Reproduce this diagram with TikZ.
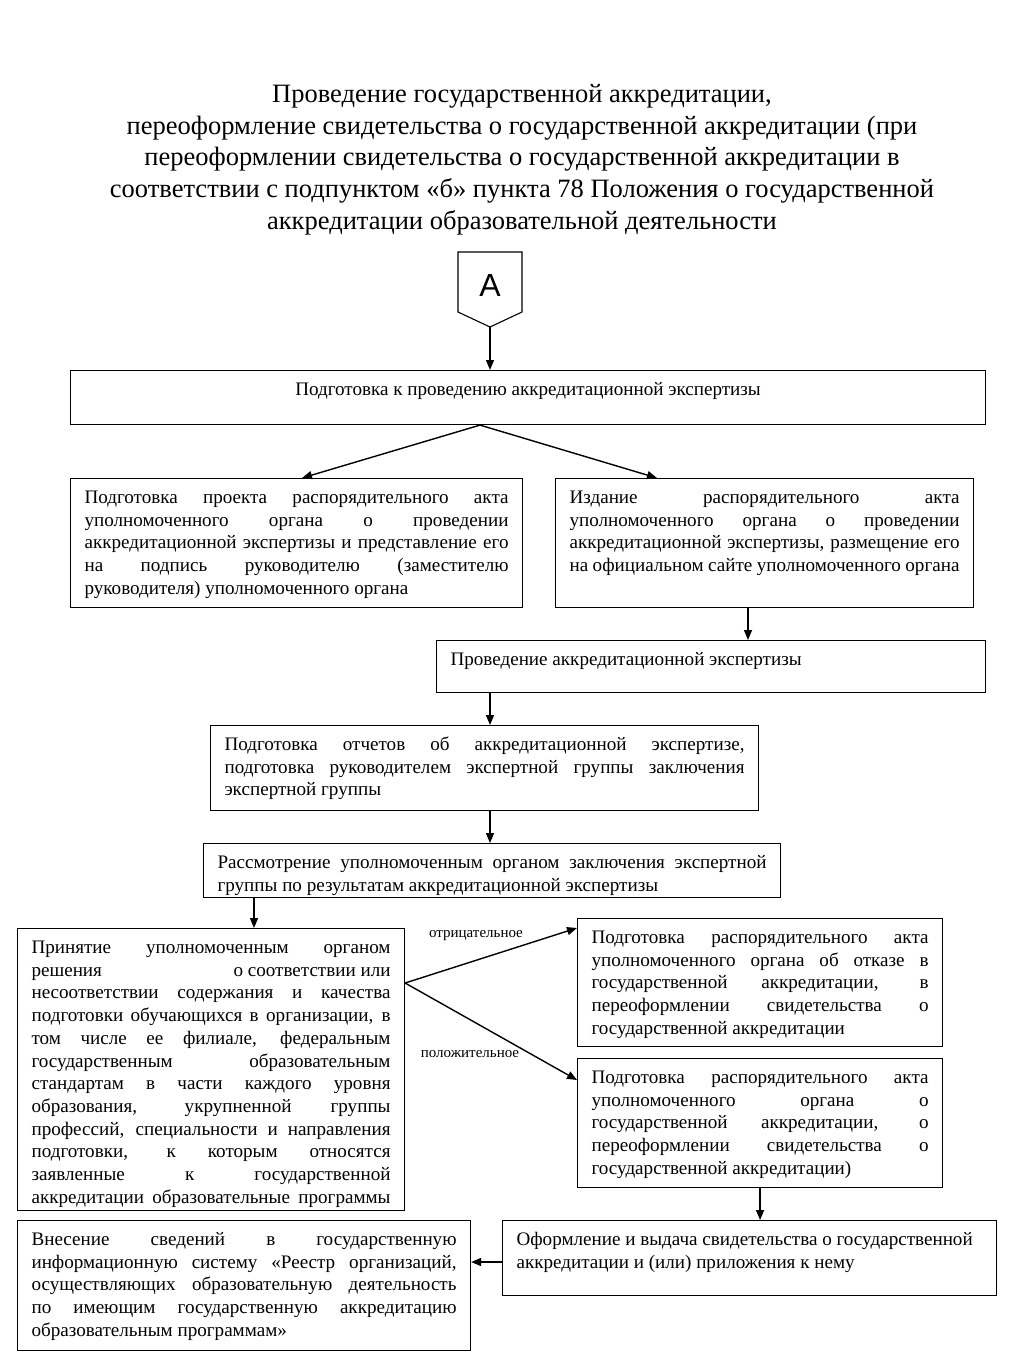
\documentclass[tikz,border=0pt]{standalone}
\usepackage{fontspec}
\setmainfont{Liberation Serif}
\newfontfamily\arialf{Liberation Sans}
\usetikzlibrary{arrows.meta,calc}

\newcommand\jl[1]{\makebox[\linewidth][s]{#1}\\}
\newcommand\jlast[1]{\makebox[\linewidth][s]{#1}}
\newcommand\firstrule{\rule{0pt}{25pt}}
\newcommand\bx[6]{\node[boxst] (#1) at (#2,#3) {\parbox[c][#5pt][t]{\dimexpr#4pt-28pt\relax}{\firstrule#6}};}

\tikzset{
  x=1pt,y=-1pt,
  boxst/.style={draw, line width=1.1pt, anchor=north west, inner xsep=14pt, inner ysep=0pt,
    font=\fontsize{19.1}{22.7}\selectfont},
  arr/.style={line width=1.4pt, -{Triangle[length=10pt,width=8pt]}},
  lbl/.style={font=\fontsize{15}{17}\selectfont, inner sep=0pt}
}

\begin{document}
\begin{tikzpicture}
\useasboundingbox[fill=white] (0,0) rectangle (1024,1365);

\node[font=\fontsize{26.5}{31.7}\selectfont, align=center, anchor=north, inner sep=0pt] (title) at (522,84)
 {Проведение государственной аккредитации,\\
  переоформление свидетельства о государственной аккредитации (при\\
  переоформлении свидетельства о государственной аккредитации в\\
  соответствии с подпунктом «б» пункта 78 Положения о государственной\\
  аккредитации образовательной деятельности};

% start symbol A
\draw[line width=1.1pt] (458,252) -- (522,252) -- (522,312) -- (490,327) -- (458,312) -- cycle;
\node[font=\arialf\fontsize{32}{36}\selectfont, inner sep=0pt] (A) at (490,285) {A};
\coordinate (Atip) at (490,327);

\node[boxst] (b1) at (70,370) {\parbox[c][54pt][t]{887pt}{\centering\firstrule Подготовка к проведению аккредитационной экспертизы}};

\bx{b2}{70}{478}{452}{129}{%
\jl{Подготовка проекта распорядительного акта}
\jl{уполномоченного органа о проведении}
\jl{аккредитационной экспертизы и представление его}
\jl{на подпись руководителю (заместителю}
руководителя) уполномоченного органа}

\bx{b3}{555}{478}{418}{129}{%
\jl{Издание распорядительного акта}
\jl{уполномоченного органа о проведении}
\jl{аккредитационной экспертизы, размещение его}
\jlast{на официальном сайте уполномоченного органа}}

\bx{b4}{436}{640}{549}{52}{Проведение аккредитационной экспертизы}

\bx{b5}{210}{725}{548}{85}{%
\jl{Подготовка отчетов об аккредитационной экспертизе,}
\jl{подготовка руководителем экспертной группы заключения}
экспертной группы}

\bx{b6}{203}{843}{577}{54}{%
\jl{Рассмотрение уполномоченным органом заключения экспертной}
группы по результатам аккредитационной экспертизы}

\bx{b7}{17}{928}{387}{282}{%
\jl{Принятие уполномоченным органом}
\makebox[\linewidth]{решения\hfill о\kern0.25em соответствии\kern0.25em или}\\
\jl{несоответствии содержания и качества}
\jl{подготовки обучающихся в организации, в}
\jl{том числе ее филиале, федеральным}
\jl{государственным образовательным}
\jl{стандартам в части каждого уровня}
\jl{образования, укрупненной группы}
\jl{профессий, специальности и направления}
\jl{подготовки, к которым относятся}
\jl{заявленные к государственной}
\jlast{аккредитации образовательные программы}}

\bx{b8}{577}{918}{365}{128}{%
\jl{Подготовка распорядительного акта}
\jl{уполномоченного органа об отказе в}
\jl{государственной аккредитации, в}
\jl{переоформлении свидетельства о}
государственной аккредитации}

\bx{b9}{577}{1058}{365}{129}{%
\jl{Подготовка распорядительного акта}
\jl{уполномоченного органа о}
\jl{государственной аккредитации, о}
\jl{переоформлении свидетельства о}
государственной аккредитации)}

\bx{b10}{502}{1220}{494}{75}{%
Оформление и выдача свидетельства о государственной\\
аккредитации и (или) приложения к нему}

\bx{b11}{17}{1220}{453}{130}{%
\jl{Внесение сведений в государственную}
\jl{информационную систему «Реестр организаций,}
\jl{осуществляющих образовательную деятельность}
\jl{по имеющим государственную аккредитацию}
образовательным программам»}

% connectors
\draw[arr] (Atip) -- (Atip |- b1.north);
\coordinate (f1) at ($(b1.south west)+(410,0)$);
\draw[arr] (f1) -- ($(b2.north west)+(232,0)$);
\draw[arr] (f1) -- ($(b3.north west)+(102,0)$);
\coordinate (c34) at ($(b3.south west)+(193,0)$);
\draw[arr] (c34) -- (c34 |- b4.north);
\coordinate (c45) at ($(b4.south west)+(54,0)$);
\draw[arr] (c45) -- (c45 |- b5.north);
\coordinate (c56) at ($(b5.south west)+(280,0)$);
\draw[arr] (c56) -- (c56 |- b6.north);
\coordinate (c67) at ($(b6.south west)+(51,0)$);
\draw[arr] (c67) -- (c67 |- b7.north);
\coordinate (f7) at ($(b7.north east)+(0,55)$);
\draw[arr] (f7) -- ($(b8.north west)+(0,10)$);
\draw[arr] (f7) -- ($(b9.north west)+(0,22)$);
\node[lbl] (neg) at (476,936) {отрицательное};
\node[lbl] (pos) at (470,1054) {положительное};
\draw[arr] (b9.south) -- (b9.south |- b10.north);
\coordinate (c1011) at ($(b10.north west)+(0,42)$);
\draw[arr] (c1011) -- (c1011 -| b11.east);
\end{tikzpicture}
\end{document}
